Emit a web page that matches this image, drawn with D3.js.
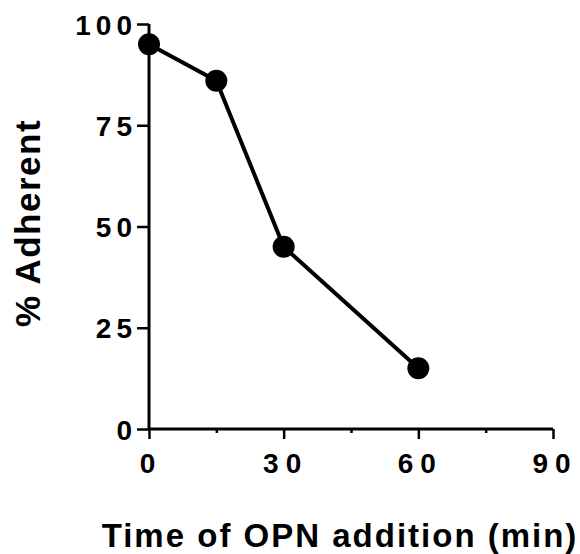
<!DOCTYPE html>
<html><head><meta charset="utf-8">
<script src="https://cdn.jsdelivr.net/npm/d3@7"></script>
<style>body{margin:0;background:#fff;}svg{display:block;}</style>
</head><body>
<script>
const timeMin = [0, 15, 30, 60];
const adherent = [95, 86, 45, 15];
const xTicks = [0, 30, 60, 90];
const xMinorTicks = [15, 45, 75];
const yTicks = [0, 25, 50, 75, 100];
const xTitle = "Time of OPN addition (min)";
const yTitle = "% Adherent";

const W = 580, H = 554;
const svg = d3.select("body").append("svg").attr("width", W).attr("height", H);
const x = d3.scaleLinear().domain([0, 90]).range([149, 553]);
const y = d3.scaleLinear().domain([0, 100]).range([429, 24]);
const font = "'Liberation Sans', Arial, sans-serif";

// axes
const xAxis = svg.append("g").attr("transform", `translate(0,${y(0)})`)
  .call(d3.axisBottom(x).tickValues(xTicks).tickSize(10).tickPadding(14).tickFormat(d3.format("d")));
svg.append("g").attr("transform", `translate(0,${y(0)})`)
  .call(d3.axisBottom(x).tickValues(xMinorTicks).tickSize(4).tickFormat(""))
  .call(g => g.select(".domain").remove());
const yAxis = svg.append("g").attr("transform", `translate(${x(0)},0)`)
  .call(d3.axisLeft(y).tickValues(yTicks).tickSize(12).tickPadding(0).tickFormat(d3.format("d")));

svg.selectAll(".domain").attr("stroke", "#000").attr("stroke-width", 3);
svg.selectAll(".tick line").attr("stroke", "#000").attr("stroke-width", 2.5);
xAxis.select(".domain").attr("d", `M${x(0)},0H${x(90)}`);
yAxis.select(".domain").attr("d", `M0,${y(0)}V${y(100)}`);
svg.selectAll(".tick text").attr("font-family", font).attr("font-weight", "bold")
  .attr("font-size", 28).attr("fill", "#000");
xAxis.selectAll(".tick text").style("letter-spacing", "7px").attr("dx", "1.5px");
yAxis.selectAll(".tick text").style("letter-spacing", "5px").attr("dy", "0.36em");

// line
const line = d3.line().x((d, i) => x(timeMin[i])).y(d => y(d));
svg.append("path").datum(adherent).attr("d", line)
  .attr("fill", "none").attr("stroke", "#000").attr("stroke-width", 4);
svg.selectAll("circle.pt").data(adherent).enter().append("circle")
  .attr("cx", (d, i) => x(timeMin[i])).attr("cy", d => y(d)).attr("r", 11).attr("fill", "#000");

// titles
svg.append("text").attr("x", 340).attr("y", 547).attr("text-anchor", "middle")
  .attr("font-family", font).attr("font-weight", "bold").attr("font-size", 33).attr("fill", "#000")
  .style("letter-spacing", "2px")
  .text(xTitle);
svg.append("text").attr("transform", "translate(40,223) rotate(-90)").attr("text-anchor", "middle")
  .attr("font-family", font).attr("font-weight", "bold").attr("font-size", 35).attr("fill", "#000")
  .style("letter-spacing", "1.5px")
  .text(yTitle);
</script>
</body></html>
